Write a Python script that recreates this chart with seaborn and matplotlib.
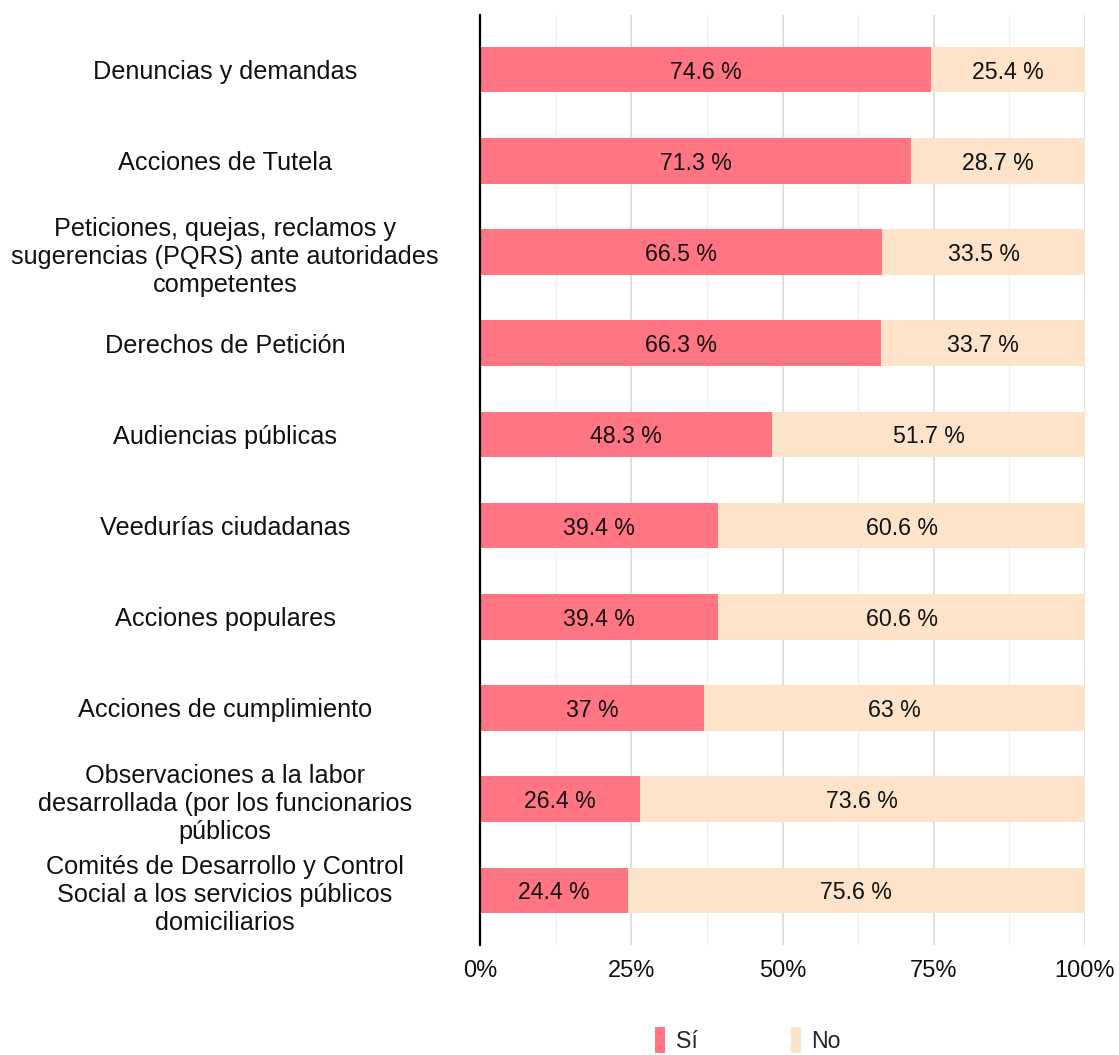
import matplotlib
matplotlib.use("Agg")
import matplotlib.pyplot as plt
import seaborn as sns
import numpy as np
import pandas as pd
from matplotlib.patches import Patch
from matplotlib.ticker import MultipleLocator, FuncFormatter

categories = [
    "Denuncias y demandas",
    "Acciones de Tutela",
    "Peticiones, quejas, reclamos y\nsugerencias (PQRS) ante autoridades\ncompetentes",
    "Derechos de Petición",
    "Audiencias públicas",
    "Veedurías ciudadanas",
    "Acciones populares",
    "Acciones de cumplimiento",
    "Observaciones a la labor\ndesarrollada (por los funcionarios\npúblicos",
    "Comités de Desarrollo y Control\nSocial a los servicios públicos\ndomiciliarios",
]
si_values = [74.6, 71.3, 66.5, 66.3, 48.3, 39.4, 39.4, 37, 26.4, 24.4]
no_values = [25.4, 28.7, 33.5, 33.7, 51.7, 60.6, 60.6, 63, 73.6, 75.6]
series_names = ["Sí", "No"]
tick_values = [0, 25, 50, 75, 100]

PINK = "#FF7583"
BEIGE = "#FCE3C9"

sns.set_theme(style="white")
plt.rcParams["font.family"] = ["Liberation Sans", "DejaVu Sans"]

df = pd.DataFrame({"cat": categories, "si": si_values, "no": no_values})
df["total"] = df["si"] + df["no"]

fig = plt.figure(figsize=(11.19, 10.55), dpi=100)
ax = fig.add_axes([480/1119, 1-945/1055, (1085-480)/1119, (945-15)/1055])

sns.barplot(data=df, x="total", y="cat", orient="h", color=BEIGE, saturation=1,
            width=0.5, linewidth=0, ax=ax, zorder=2)
sns.barplot(data=df, x="si", y="cat", orient="h", color=PINK, saturation=1,
            width=0.5, linewidth=0, ax=ax, zorder=3)

for i, (s, n) in enumerate(zip(si_values, no_values)):
    ax.text(s / 2, i, f"{s:g} %", ha="center", va="center_baseline", fontsize=16.7, color="#111111", zorder=4)
    ax.text(s + n / 2, i, f"{n:g} %", ha="center", va="center_baseline", fontsize=16.7, color="#111111", zorder=4)

ax.set_xlim(0, 100)
ax.set_ylim(len(categories) - 1 + 0.6, -0.6)
ax.set_xticks(tick_values)
ax.xaxis.set_minor_locator(MultipleLocator(12.5))
ax.xaxis.set_major_formatter(FuncFormatter(lambda v, p: f"{v:g}%"))
ax.grid(axis="x", which="major", color="#d9d9d9", linewidth=1.2, zorder=0)
ax.grid(axis="x", which="minor", color="#f0f0f0", linewidth=1.0, zorder=0)
ax.grid(axis="y", visible=False)
ax.set_axisbelow(True)
ax.set_xlabel("")
ax.set_ylabel("")
for sp in ["top", "right", "bottom"]:
    ax.spines[sp].set_visible(False)
ax.spines["left"].set_color("black")
ax.spines["left"].set_linewidth(1.6)
ax.spines["left"].set_zorder(5)

ax.tick_params(axis="x", which="both", length=0, labelsize=17, pad=11, colors="#111111")
ax.tick_params(axis="y", length=0, labelsize=18.2, pad=255 * 72 / 100, colors="#111111")
for lab in ax.get_yticklabels():
    lab.set_ha("center")
    lab.set_multialignment("center")
    lab.set_linespacing(1.21)

handles = [Patch(facecolor=PINK, edgecolor="none"), Patch(facecolor=BEIGE, edgecolor="none")]
fig.legend(handles, series_names, loc="center", bbox_to_anchor=(748/1119, 1 - 1040/1055),
           ncol=2, frameon=False, fontsize=16.7, handlelength=0.45, handleheight=1.35,
           handletextpad=0.45, columnspacing=4.0)

fig.savefig("out.png", dpi=100)
